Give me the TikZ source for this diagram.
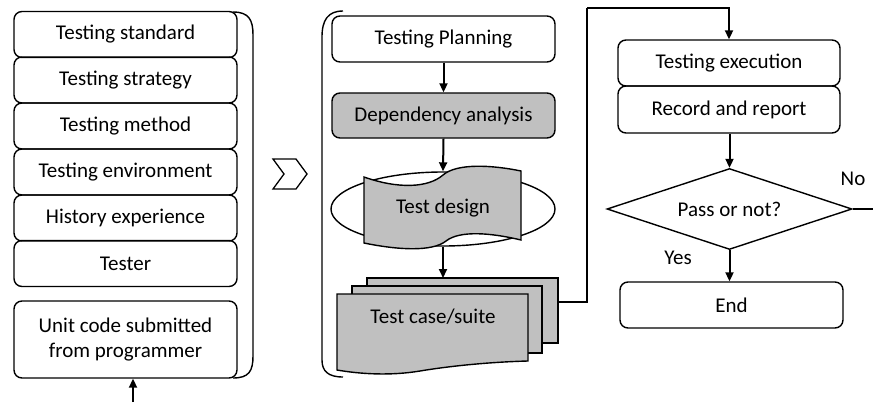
\documentclass[tikz,border=0pt]{standalone}
\usepackage{fontspec}
\setmainfont{Carlito}
\usetikzlibrary{shapes.geometric,arrows.meta}
\definecolor{boxgray}{RGB}{192,192,192}
\tikzset{
  every node/.style={font=\fontsize{21}{25}\selectfont},
  rbox/.style={draw, line width=1.4pt, rounded corners=8pt, minimum width=223pt,
    minimum height=46pt, inner sep=0pt, align=center},
  gbox/.style={rbox, fill=boxgray},
  brace/.style={line width=1.4pt},
  arr/.style={line width=2pt, -{Triangle[length=9pt,width=8pt]}},
  wire/.style={line width=1.4pt},
  lbl/.style={inner sep=0pt}
}
\begin{document}
\begin{tikzpicture}[x=1pt,y=-1pt]
\useasboundingbox (0,0) rectangle (873,402);

% ---- inputs column ----
\node[rbox] (std)  at (125.5,34.5) {Testing standard};
\node[rbox] (strat) at (125.5,80)  {Testing strategy};
\node[rbox] (meth) at (125.5,126)  {Testing method};
\node[rbox] (env)  at (125.5,172)  {Testing environment};
\node[rbox] (hist) at (125.5,218)  {History experience};
\node[rbox] (tester) at (125.5,263.5) {Tester};
\node[rbox, minimum height=77pt] (unit) at (125.5,339.5) {Unit code submitted\\from programmer};

% closing bracket of the inputs
\draw[brace] (233,12) .. controls (249,12) and (253,20) .. (253,35)
  -- (253,356) .. controls (253,371) and (249,378) .. (233,378);

% chevron
\draw[line width=1.3pt] (273,159) -- (296,159) -- (307,174) -- (296,189)
  -- (273,189) -- (284,174) -- cycle;

% opening bracket of the design phase
\draw[brace] (343,11) .. controls (328,11) and (322,20) .. (322,37)
  -- (322,360) .. controls (322,371) and (328,377) .. (343,377);

% ---- design phase ----
\node[rbox] (plan) at (443.5,39) {Testing Planning};
\node[gbox, minimum height=45pt] (dep) at (443.5,115.5) {Dependency analysis};

\node[draw, ellipse, line width=1.4pt, minimum width=224pt, minimum height=74pt,
  inner sep=0pt] (design) at (443,209) {};
\draw[line width=1.4pt, fill=boxgray]
  (364,177) .. controls (398,189) and (428,188) .. (443,175)
  .. controls (457,163) and (492,165) .. (521,171)
  -- (521,240)
  .. controls (492,233) and (460,230) .. (446,241)
  .. controls (432,252) and (398,250) .. (364,243) -- cycle;
\node[lbl] (designtxt) at (443,208) {Test design};

% stacked test case sheets
\draw[line width=1.4pt, fill=boxgray] (367,278) rectangle (558,343);
\draw[line width=1.4pt, fill=boxgray] (352,286) rectangle (542,353);
\draw[line width=1.4pt, fill=boxgray] (337,294) -- (528,294) -- (528,361)
  .. controls (490,362) and (450,366) .. (420,371)
  .. controls (390,376) and (360,374) .. (337,370) -- cycle;
\node[lbl] (cases) at (433,317) {Test case/suite};
\coordinate (stacktop) at (443,278);
\coordinate (stackout) at (558,302);

\draw[arr] (plan.south) -- (dep.north);
\draw[arr] (dep.south) -- (design.north);
\draw[arr] (design.south) -- (stacktop);

% ---- execution phase ----
\node[rbox, minimum width=222pt] (exec) at (729,63) {Testing execution};
\node[rbox, minimum width=222pt, minimum height=47pt] (rec) at (729,109.5) {Record and report};
\node[draw, diamond, aspect=3, line width=1.4pt, minimum width=245pt,
  minimum height=81pt, inner sep=0pt] (pass) at (729.5,209) {Pass or not?};
\node[rbox] (endn) at (731.5,305) {End};

\coordinate (turn) at (587,8);
\draw[wire] (stackout) -| (turn);
\draw[arr] (turn) -| (exec.north);

\draw[arr] (rec.south -| pass.north) -- (pass.north);
\draw[arr] (pass.south) -- (pass.south |- endn.north);

\node[lbl] (yes) at (678,258) {Yes};
\node[lbl] (no) at (853,179) {No};
\coordinate (noout) at (873,209);
\draw[wire] (pass.east) -- (noout);

% feedback into the unit code box
\coordinate (back) at (133,402);
\draw[arr] (back) -- (back |- unit.south);
\end{tikzpicture}
\end{document}
